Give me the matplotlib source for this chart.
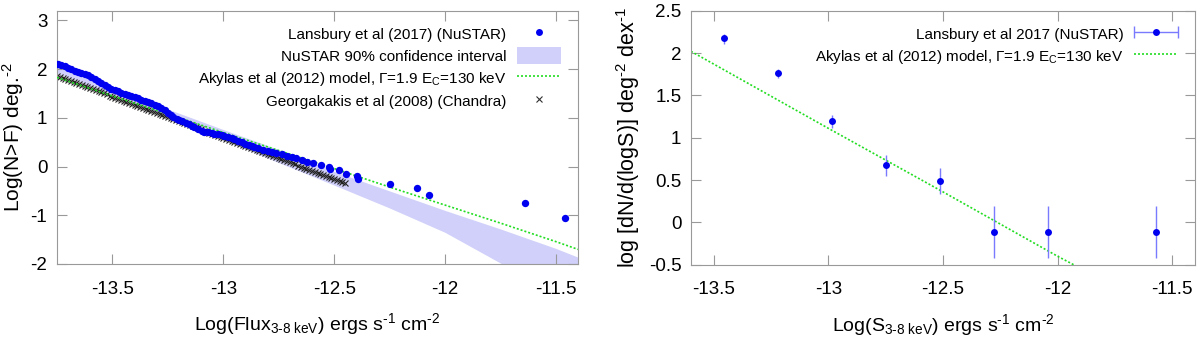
import numpy as np
import matplotlib
matplotlib.use('Agg')
import matplotlib.pyplot as plt
from matplotlib.lines import Line2D
from matplotlib.patches import Patch
from matplotlib.collections import LineCollection
from matplotlib.container import ErrorbarContainer
from matplotlib.legend_handler import HandlerErrorbar

plt.rcParams['font.family'] = ['Liberation Sans', 'DejaVu Sans']
plt.rcParams['mathtext.fontset'] = 'custom'
plt.rcParams['mathtext.rm'] = 'Liberation Sans'
plt.rcParams['mathtext.it'] = 'Liberation Sans:italic'
plt.rcParams['axes.unicode_minus'] = False

# ---- left panel: cumulative logN-logS ----
# Lansbury et al (2017) NuSTAR
lans_x = [-13.755, -13.745, -13.73, -13.715, -13.70, -13.685, -13.668, -13.655, -13.64, -13.623,
          -13.61, -13.595, -13.578, -13.565, -13.55, -13.533, -13.52, -13.505, -13.488, -13.475,
          -13.46, -13.443, -13.43, -13.415, -13.398, -13.385, -13.37, -13.353, -13.34, -13.325,
          -13.308, -13.295, -13.28, -13.263, -13.25, -13.238, -13.225, -13.21, -13.198, -13.187,
          -13.17, -13.155, -13.142, -13.13, -13.115, -13.097, -13.085, -13.07, -13.052, -13.04,
          -13.025, -13.007, -12.995, -12.98, -12.962, -12.95, -12.935, -12.917, -12.90, -12.885,
          -12.872, -12.86, -12.845, -12.82, -12.80, -12.782, -12.76, -12.735, -12.714, -12.69,
          -12.67, -12.647, -12.624, -12.597, -12.561, -12.524, -12.52, -12.479, -12.446, -12.396,
          -12.394, -12.247, -12.127, -12.071, -11.64, -11.457]
lans_y = [2.11, 2.10, 2.09, 2.06, 2.03, 2.00, 1.97, 1.95, 1.93, 1.90,
          1.87, 1.83, 1.79, 1.75, 1.71, 1.67, 1.63, 1.60, 1.58, 1.55,
          1.52, 1.49, 1.46, 1.44, 1.42, 1.40, 1.37, 1.35, 1.32, 1.30,
          1.27, 1.24, 1.20, 1.16, 1.11, 1.06, 1.02, 0.98, 0.95, 0.93,
          0.90, 0.87, 0.84, 0.81, 0.77, 0.74, 0.72, 0.70, 0.69, 0.67,
          0.66, 0.65, 0.63, 0.61, 0.58, 0.56, 0.53, 0.50, 0.47, 0.44,
          0.42, 0.40, 0.38, 0.345, 0.32, 0.295, 0.275, 0.25, 0.226, 0.206,
          0.17, 0.137, 0.103, 0.069, 0.034, 0.0, -0.05, -0.08, -0.15, -0.195,
          -0.265, -0.35, -0.45, -0.575, -0.755, -1.06]

# NuSTAR 90% confidence band
band_x = [-13.75, -13.5, -13.25, -13.0, -12.75, -12.5, -12.25, -12.0, -11.75, -11.5, -11.4]
band_hi = [2.08, 1.62, 1.18, 0.76, 0.35, -0.10, -0.50, -0.90, -1.28, -1.68, -1.86]
band_lo = [1.92, 1.48, 1.02, 0.55, 0.08, -0.38, -0.85, -1.35, -1.98, -2.60, -2.85]

# Akylas et al (2012) model
model_x = [-13.75, -13.5, -13.25, -13.0, -12.75, -12.5, -12.25, -12.0, -11.75, -11.5, -11.4]
model_y = [1.83, 1.45, 1.08, 0.70, 0.33, -0.04, -0.42, -0.79, -1.16, -1.54, -1.70]

# Georgakakis et al (2008) Chandra
chan_x = [-13.7500, -13.7375, -13.7250, -13.7125, -13.7000, -13.6875, -13.6750, -13.6625, -13.6500, -13.6375,
          -13.6250, -13.6125, -13.6000, -13.5875, -13.5750, -13.5625, -13.5500, -13.5375, -13.5250, -13.5125,
          -13.5000, -13.4875, -13.4750, -13.4625, -13.4500, -13.4375, -13.4250, -13.4125, -13.4000, -13.3875,
          -13.3750, -13.3625, -13.3500, -13.3375, -13.3250, -13.3125, -13.3000, -13.2875, -13.2750, -13.2625,
          -13.2500, -13.2375, -13.2250, -13.2125, -13.2000, -13.1875, -13.1750, -13.1625, -13.1500, -13.1375,
          -13.1250, -13.1125, -13.1000, -13.0875, -13.0750, -13.0625, -13.0500, -13.0375, -13.0250, -13.0125,
          -13.0000, -12.9875, -12.9750, -12.9625, -12.9500, -12.9375, -12.9250, -12.9125, -12.9000, -12.8875,
          -12.8750, -12.8625, -12.8500, -12.8375, -12.8250, -12.8125, -12.8000, -12.7875, -12.7750, -12.7625,
          -12.7500, -12.7375, -12.7250, -12.7125, -12.7000, -12.6875, -12.6750, -12.6625, -12.6500, -12.6375,
          -12.6250, -12.6125, -12.6000, -12.5875, -12.5750, -12.5625, -12.5500, -12.5375, -12.5250, -12.5125,
          -12.5000, -12.4875, -12.4750, -12.4625, -12.4500]
chan_y = [1.860, 1.839, 1.818, 1.797, 1.776, 1.754, 1.733, 1.712, 1.691, 1.670,
          1.649, 1.628, 1.607, 1.585, 1.564, 1.543, 1.522, 1.501, 1.480, 1.459,
          1.438, 1.416, 1.395, 1.374, 1.353, 1.332, 1.311, 1.290, 1.269, 1.247,
          1.226, 1.205, 1.184, 1.163, 1.142, 1.121, 1.099, 1.078, 1.057, 1.036,
          1.015, 0.994, 0.973, 0.952, 0.930, 0.909, 0.888, 0.867, 0.846, 0.825,
          0.804, 0.783, 0.762, 0.740, 0.719, 0.698, 0.677, 0.656, 0.635, 0.614,
          0.593, 0.571, 0.550, 0.529, 0.508, 0.487, 0.466, 0.445, 0.424, 0.402,
          0.381, 0.360, 0.339, 0.318, 0.297, 0.276, 0.255, 0.233, 0.212, 0.191,
          0.170, 0.149, 0.128, 0.107, 0.086, 0.064, 0.043, 0.022, 0.001, -0.020,
          -0.041, -0.062, -0.083, -0.105, -0.126, -0.147, -0.168, -0.189, -0.210, -0.231,
          -0.252, -0.274, -0.295, -0.316, -0.337]

# ---- right panel: differential counts ----
diff_x = [-13.457, -13.221, -12.985, -12.749, -12.513, -12.277, -12.041, -11.569]
diff_y = [2.174, 1.76, 1.193, 0.673, 0.484, -0.118, -0.118, -0.118]
diff_lo = [2.11, 1.709, 1.118, 0.547, 0.331, -0.425, -0.425, -0.425]
diff_hi = [2.22, 1.808, 1.268, 0.799, 0.638, 0.189, 0.189, 0.189]

model2_x = [-13.6, -13.0, -12.5, -12.0, -11.93]
model2_y = [2.02, 1.11, 0.36, -0.40, -0.50]

BLUE = '#0000f0'
ERR = '#7a7aff'
GREEN = '#22dd22'
BAND = '#d0d0fa'
FRAME = '#999999'
HY = '\u2010'  # plain hyphen inside math text


def style(ax):
    for s in ax.spines.values():
        s.set_color(FRAME)
    ax.tick_params(direction='in', top=True, right=True, length=7, color=FRAME,
                   labelsize=13.5, labelcolor='black')
    ax.tick_params(axis='x', pad=12)
    ax.tick_params(axis='y', pad=7)


fig = plt.figure(figsize=(12, 3.42), dpi=100)
ax1 = fig.add_axes([57 / 1200, 78 / 342, 521 / 1200, 253.3 / 342])
ax2 = fig.add_axes([691 / 1200, 77.3 / 342, 504 / 1200, 254 / 342])

ax1.fill_between(band_x, band_lo, band_hi, color=BAND, lw=0, zorder=1)
ax1.plot(chan_x, chan_y, ls='none', marker='x', ms=4.5, mew=0.8, color='#222222', zorder=2)
ax1.plot(model_x, model_y, ls=(0, (1.2, 1.2)), lw=1.2, color=GREEN, zorder=3)
ax1.plot(lans_x, lans_y, ls='none', marker='o', ms=5.3, mew=0, color=BLUE, zorder=4)

ax1.set_xlim(-13.75, -11.4)
ax1.set_ylim(-2, 3.2)
ax1.set_xticks([-13.5, -13, -12.5, -12, -11.5])
ax1.set_xticklabels(['-13.5', '-13', '-12.5', '-12', '-11.5'])
ax1.set_yticks([-2, -1, 0, 1, 2, 3])
style(ax1)
ax1.set_xlabel(r'Log(Flux$_{\mathregular{3' + HY + r'8\ keV}}$) ergs s$^{\mathregular{' + HY +
               r'1}}$ cm$^{\mathregular{' + HY + r'2}}$', fontsize=14, labelpad=10)
ax1.set_ylabel(r'Log(N>F) deg.$^{\mathregular{' + HY + r'2}}$', fontsize=15)
ax1.yaxis.set_label_coords(-0.06, 0.5)

h1 = [Line2D([], [], ls='none', marker='o', ms=5, mew=0, color=BLUE),
      Patch(color=BAND, lw=0),
      Line2D([], [], ls=(0, (1.2, 1.2)), lw=1.2, color=GREEN),
      Line2D([], [], ls='none', marker='x', ms=4, mew=0.8, color='#303030')]
l1 = ['Lansbury et al (2017) (NuSTAR)',
      'NuSTAR 90% confidence interval',
      r'Akylas et al (2012) model, Γ=1.9 E$_{\mathregular{C}}$=130 keV',
      'Georgakakis et al (2008) (Chandra)']
ax1.legend(h1, l1, loc='upper right', bbox_to_anchor=(0.967, 0.942), frameon=False,
           markerfirst=False, fontsize=11, handlelength=2.9, handletextpad=0.65,
           labelspacing=0.3, borderpad=0, borderaxespad=0, handleheight=1.35)

# right panel
ax2.errorbar(diff_x, diff_y,
             yerr=[np.subtract(diff_y, diff_lo), np.subtract(diff_hi, diff_y)],
             ls='none', marker='o', ms=5, mew=0, color=BLUE, ecolor=ERR,
             elinewidth=1, capsize=4.5, capthick=1, zorder=3)
ax2.plot(model2_x, model2_y, ls=(0, (1.2, 1.2)), lw=1.2, color=GREEN, zorder=2)

ax2.set_xlim(-13.6, -11.4)
ax2.set_ylim(-0.5, 2.5)
ax2.set_xticks([-13.5, -13, -12.5, -12, -11.5])
ax2.set_xticklabels(['-13.5', '-13', '-12.5', '-12', '-11.5'])
ax2.set_yticks([-0.5, 0, 0.5, 1, 1.5, 2, 2.5])
ax2.set_yticklabels(['-0.5', '0', '0.5', '1', '1.5', '2', '2.5'])
style(ax2)
ax2.set_xlabel(r'Log(S$_{\mathregular{3' + HY + r'8\ keV}}$) ergs s$^{\mathregular{' + HY +
               r'1}}$ cm$^{\mathregular{' + HY + r'2}}$', fontsize=14, labelpad=10)
ax2.set_ylabel(r'log [dN/d(logS)] deg$^{\mathregular{' + HY + r'2}}$ dex$^{\mathregular{' + HY + r'1}}$',
               fontsize=15.5)
ax2.yaxis.set_label_coords(-0.097, 0.5)

dot = Line2D([], [], ls='none', marker='o', ms=5, mew=0, color=BLUE)
capl = Line2D([], [], ls='none', marker='|', ms=8, color=ERR)
barl = LineCollection([], colors=ERR, linewidths=1)
proxy = ErrorbarContainer((dot, (capl,), (barl,)), has_xerr=True, has_yerr=False,
                          label='Lansbury et al 2017 (NuSTAR)')
h2 = [proxy, Line2D([], [], ls=(0, (1.2, 1.2)), lw=1.2, color=GREEN)]
l2 = ['Lansbury et al 2017 (NuSTAR)',
      r'Akylas et al (2012) model, Γ=1.9 E$_{\mathregular{C}}$=130 keV']
ax2.legend(h2, l2, loc='upper right', bbox_to_anchor=(0.966, 0.942), frameon=False,
           markerfirst=False, fontsize=11, handlelength=2.9, handletextpad=0.65,
           labelspacing=0.3, borderpad=0, borderaxespad=0, handleheight=1.35,
           handler_map={proxy: HandlerErrorbar(xerr_size=1.45)})

fig.savefig('out.png', dpi=100)
